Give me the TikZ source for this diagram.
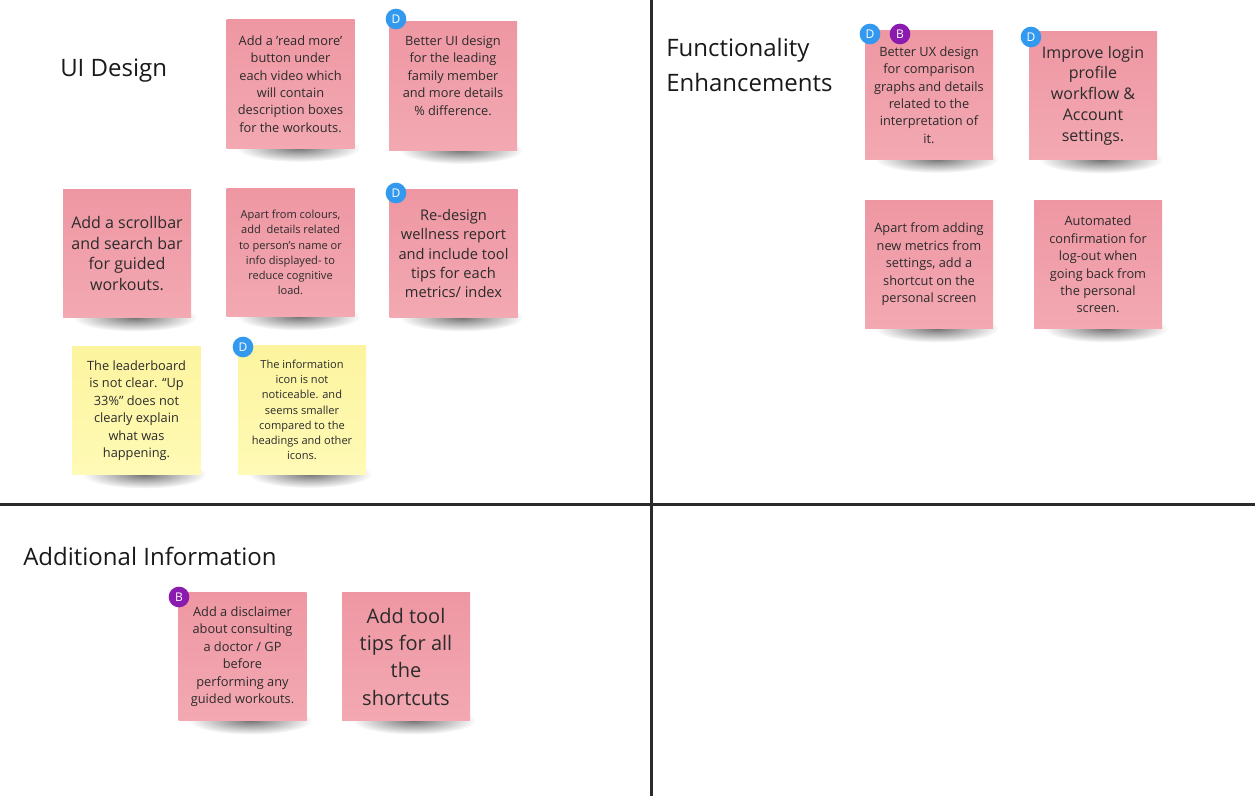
\documentclass[tikz,border=0pt]{standalone}
\usepackage{fontspec}
\setmainfont{Open Sans}
\usepackage{xcolor}
\definecolor{notePinkTop}{HTML}{EE97A3}
\definecolor{notePinkBot}{HTML}{F3A9B2}
\definecolor{noteYelTop}{HTML}{FCF49E}
\definecolor{noteYelBot}{HTML}{FFFAB6}
\definecolor{badgeBlue}{HTML}{3399EE}
\definecolor{badgePurple}{HTML}{8B1BAF}
\definecolor{inkGray}{HTML}{2B2B2B}
\usepackage{tikz}
\usetikzlibrary{fadings}

% text sizes of the sticky notes
\newcommand{\tnyTxt}{\fontsize{8.3}{11.4}\selectfont}
\newcommand{\smlTxt}{\fontsize{9.6}{13.1}\selectfont}
\newcommand{\medTxt}{\fontsize{11}{14.5}\selectfont}
\newcommand{\bigTxt}{\fontsize{12}{15.6}\selectfont}
\newcommand{\hugeTxt}{\fontsize{15}{20.5}\selectfont}

\tikzfading[name=softShadow, inner color=transparent!0, outer color=transparent!100]

\tikzset{
  note/.style={rectangle, minimum width=96pt, minimum height=96.5pt, inner sep=0pt,
    align=center, text=inkGray, top color=notePinkTop, bottom color=notePinkBot,
    font=\smlTxt},
  noteYellow/.style={note, top color=noteYelTop, bottom color=noteYelBot},
  badge/.style={circle, minimum size=15.5pt, inner sep=0pt, text=white,
    font=\fontsize{9}{9}\selectfont},
  badgeD/.style={badge, fill=badgeBlue},
  badgeB/.style={badge, fill=badgePurple},
  heading/.style={anchor=west, inner sep=0pt, align=left, text=black!90,
    font=\fontsize{18}{26}\selectfont},
}

\begin{document}
\begin{tikzpicture}[x=0.75pt, y=-0.75pt]
  \useasboundingbox (0,0) rectangle (1255,796);
  % ---- quadrant lines ----
  \draw[inkGray, line width=2.2pt] (651.5,0) -- (651.5,796);
  \draw[inkGray, line width=1.6pt] (0,504.5) -- (1255,504.5);

  % ---- headings ----
  \node[heading] (uiHead) at (60,70.5) {UI Design};
  \node[heading] (funcHead) at (666,65) {Functionality\\Enhancements};
  \node[heading] (addHead) at (23,556) {Additional Information};

  % ---- shadows under the notes (drawn first) ----
  \foreach \n/\cx/\cy in {readmore/290.5/84, betterUI/453/86, scrollbar/127/253.5,
      colours/290.5/252.5, wellness/453.5/253.5, leaderboard/136.5/410.5,
      infoicon/302/410, graphs/929/95, login/1093/95.5, shortcut/929/264.5,
      logout/1098/264.5, disclaimer/242.5/656.5, tooltips/406/656.5}
    \fill[black, fill opacity=0.55, path fading=softShadow]
      (\cx+8,\cy+64) ellipse [x radius=62, y radius=14];

  % ---- UI Design ----
  \node[note] (readmore) at (290.5,84) {Add a 'read more'\\button under\\each video which\\will contain\\description boxes\\for the workouts.};
  \node[note] (betterUI) at (453,86) {Better UI design\\for the leading\\family member\\and more details\\\% difference.\\[3pt]};
  \node[note, font=\bigTxt] (scrollbar) at (127,253.5) {Add a scrollbar\\and search bar\\for guided\\workouts.};
  \node[note, font=\tnyTxt] (colours) at (290.5,252.5) {Apart from colours,\\add\ \ details related\\to person's name or\\info displayed- to\\reduce cognitive\\load.};
  \node[note, font=\medTxt] (wellness) at (453.5,253.5) {Re-design\\wellness report\\and include tool\\tips for each\\metrics/ index};
  \node[noteYellow] (leaderboard) at (136.5,410.5) {The leaderboard\\is not clear. “Up\\33\%” does not\\clearly explain\\what was\\happening.};
  \node[noteYellow, font=\tnyTxt] (infoicon) at (302,410) {The information\\icon is not\\noticeable. and\\seems smaller\\compared to the\\headings and other\\icons.};

  % ---- Functionality Enhancements ----
  \node[note] (graphs) at (929,95) {Better UX design\\for comparison\\graphs and details\\related to the\\interpretation of\\it.};
  \node[note, font=\bigTxt] (login) at (1093,95.5) {Improve login\\profile\\workflow \&\\Account\\settings.};
  \node[note] (shortcut) at (929,264.5) {Apart from adding\\new metrics from\\settings, add a\\shortcut on the\\personal screen};
  \node[note] (logout) at (1098,264.5) {Automated\\confirmation for\\log-out when\\going back from\\the personal\\screen.};

  % ---- Additional Information ----
  \node[note] (disclaimer) at (242.5,656.5) {Add a disclaimer\\about consulting\\a doctor / GP\\before\\performing any\\guided workouts.};
  \node[note, font=\hugeTxt] (tooltips) at (406,656.5) {Add tool\\tips for all\\the\\shortcuts};

  % ---- reviewer badges ----
  \node[badgeD] (dBetterUI) at (396,19) {D};
  \node[badgeD] (dWellness) at (396,193) {D};
  \node[badgeD] (dInfoicon) at (243,347) {D};
  \node[badgeD] (dGraphs) at (870,34) {D};
  \node[badgeB] (bGraphs) at (900,34) {B};
  \node[badgeD] (dLogin) at (1031,37) {D};
  \node[badgeB] (bDisclaimer) at (179,597) {B};
\end{tikzpicture}
\end{document}
